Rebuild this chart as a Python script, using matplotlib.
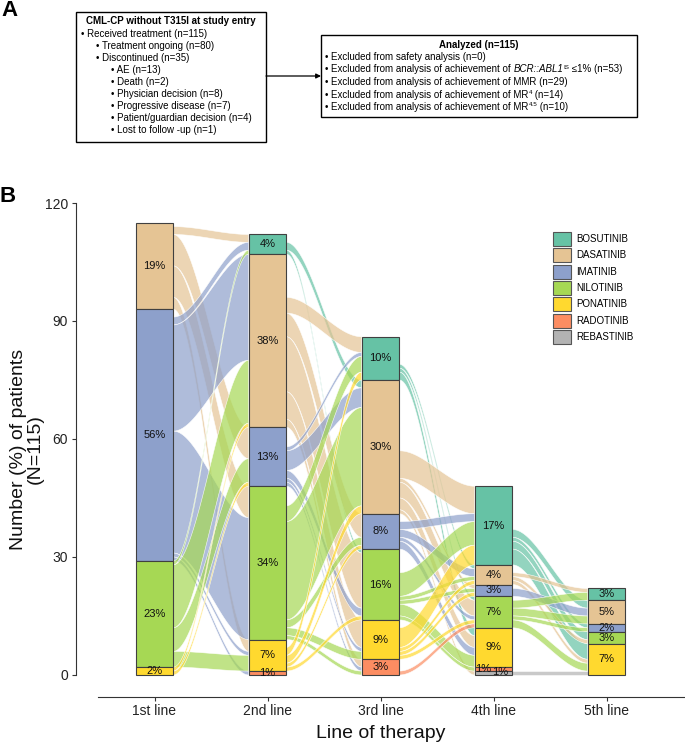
import numpy as np
import matplotlib
matplotlib.use("Agg")
import matplotlib.pyplot as plt
from matplotlib.patches import Rectangle, Patch, Polygon

plt.rcParams["font.family"] = ["Liberation Sans", "DejaVu Sans"]

N_TOTAL = 115
LINES = ["1st line", "2nd line", "3rd line", "4th line", "5th line"]
DRUGS = ["BOSUTINIB", "DASATINIB", "IMATINIB", "NILOTINIB",
         "PONATINIB", "RADOTINIB", "REBASTINIB"]
COLORS = ["#66C2A5", "#E5C494", "#8DA0CB", "#A6D854",
          "#FFD92F", "#FC8D62", "#B3B3B3"]

# patients per drug (same order as DRUGS, stacked top to bottom) per line
LINE1 = [0, 22, 64, 27, 2, 0, 0]
LINE2 = [5, 44, 15, 39, 8, 1, 0]
LINE3 = [11, 34, 9, 18, 10, 4, 0]
LINE4 = [20, 5, 3, 8, 10, 1, 1]
LINE5 = [3, 6, 2, 3, 8, 0, 0]

# switches between consecutive lines: row = drug at line k, col = drug at line k+1
T12 = [[0, 0, 0, 0, 0, 0, 0],
       [2, 0, 8, 8, 3, 0, 0],
       [2, 27, 0, 31, 1, 1, 0],
       [1, 16, 6, 0, 4, 0, 0],
       [0, 1, 1, 0, 0, 0, 0],
       [0, 0, 0, 0, 0, 0, 0],
       [0, 0, 0, 0, 0, 0, 0]]
T23 = [[0, 2, 0, 1, 0, 0, 0],
       [4, 0, 6, 14, 7, 2, 0],
       [1, 5, 0, 2, 1, 1, 0],
       [4, 25, 2, 0, 2, 1, 0],
       [2, 2, 1, 1, 0, 0, 0],
       [0, 0, 0, 0, 0, 0, 0],
       [0, 0, 0, 0, 0, 0, 0]]
T34 = [[0, 1, 0, 1, 2, 0, 0],
       [7, 0, 1, 4, 3, 0, 1],
       [2, 2, 0, 1, 2, 0, 0],
       [6, 1, 1, 0, 3, 1, 0],
       [5, 1, 1, 1, 0, 0, 0],
       [0, 0, 0, 1, 0, 0, 0],
       [0, 0, 0, 0, 0, 0, 0]]
T45 = [[0, 2, 1, 2, 4, 0, 0],
       [1, 0, 0, 1, 1, 0, 0],
       [0, 2, 0, 0, 0, 0, 0],
       [2, 2, 1, 0, 2, 0, 0],
       [0, 0, 0, 0, 0, 0, 0],
       [0, 0, 0, 0, 0, 0, 0],
       [0, 0, 0, 0, 1, 0, 0]]

COUNTS = [LINE1, LINE2, LINE3, LINE4, LINE5]
TRANS = [T12, T23, T34, T45]

BOX1_TITLE = "CML-CP without T315I at study entry"
BOX1_ITEMS = [(0, "Received treatment (n=115)"),
              (1, "Treatment ongoing (n=80)"),
              (1, "Discontinued (n=35)"),
              (2, "AE (n=13)"),
              (2, "Death (n=2)"),
              (2, "Physician decision (n=8)"),
              (2, "Progressive disease (n=7)"),
              (2, "Patient/guardian decision (n=4)"),
              (2, "Lost to follow -up (n=1)")]
BOX2_TITLE = "Analyzed (n=115)"
# each item: list of (text, style) pieces; style n=normal, i=italic, s=superscript
BOX2_ITEMS = [[("Excluded from safety analysis (n=0)", "n")],
              [("Excluded from analysis of achievement of ", "n"), ("BCR::ABL1", "i"),
               ("IS", "s"), (" \u22641% (n=53)", "n")],
              [("Excluded from analysis of achievement of MMR (n=29)", "n")],
              [("Excluded from analysis of achievement of MR", "n"), ("4", "s"), (" (n=14)", "n")],
              [("Excluded from analysis of achievement of MR", "n"), ("4.5", "s"), (" (n=10)", "n")]]

W, H = 685, 744
fig = plt.figure(figsize=(W / 100, H / 100), dpi=100)
renderer = fig.canvas.get_renderer()

# ---- panel A (pixel coordinates) ----
axA = fig.add_axes([0, 0, 1, 1])
axA.set_xlim(0, W)
axA.set_ylim(H, 0)
axA.axis("off")
axA.text(10, 11, "A", fontsize=16, fontweight="bold", ha="center", va="center")
axA.text(8, 197, "B", fontsize=16, fontweight="bold", ha="center", va="center")

axA.add_patch(Rectangle((76, 12), 190, 130, fill=False, lw=1.0, ec="black"))
axA.text(171, 21.5, BOX1_TITLE, fontsize=7, fontweight="bold", ha="center", va="center")
indent = [81, 96, 111]
for i, (lvl, txt) in enumerate(BOX1_ITEMS):
    axA.text(indent[lvl], 33.5 + 12 * i + 3.5, "\u2022 " + txt, fontsize=7,
             ha="left", va="baseline")


def rich_line(x, y, parts):
    # y is the baseline in pixels
    x_cur = x
    for txt, style in parts:
        kw = dict(fontsize=7, ha="left", va="baseline")
        yy = y
        if style == "i":
            kw["fontstyle"] = "italic"
        elif style == "s":
            kw["fontsize"] = 4.5
            yy = y - 3.5
        t = axA.text(x_cur, yy, txt, **kw)
        x_cur += t.get_window_extent(renderer=renderer).width


axA.add_patch(Rectangle((321, 35), 316, 82, fill=False, lw=1.0, ec="black"))
axA.text(479, 45, BOX2_TITLE, fontsize=7, fontweight="bold", ha="center", va="center")
for i, parts in enumerate(BOX2_ITEMS):
    rich_line(325, 56.5 + 12.5 * i + 3.5, [("\u2022 ", "n")] + parts)

axA.annotate("", xy=(321, 76), xytext=(266, 76),
             arrowprops=dict(arrowstyle="-|>", lw=0.9, color="black",
                             mutation_scale=7, shrinkA=0, shrinkB=0))

# ---- panel B: alluvial ----
ax = fig.add_axes([76 / W, (H - 697) / H, (W - 76) / W, (697 - 203) / H])
ymin = -22 / 3.933
ax.set_ylim(ymin, 120)
ax.set_xlim(1 - 78.5 / 113, 5 + 78.5 / 113)
bw = 1 / 3


def tops_of(c):
    out, y = [], sum(c)
    for n in c:
        out.append(y)
        y -= n
    return out


def band(x0, x1, t0, b0, t1, b1, n=60):
    t = np.linspace(0, 1, n)
    s = 3 * t ** 2 - 2 * t ** 3
    x = x0 + (x1 - x0) * t
    top = t0 + (t1 - t0) * s
    bot = b0 + (b1 - b0) * s
    return np.column_stack([np.concatenate([x, x[::-1]]),
                            np.concatenate([top, bot[::-1]])])


for k, T in enumerate(TRANS):
    c0, c1 = COUNTS[k], COUNTS[k + 1]
    top0, top1 = tops_of(c0), tops_of(c1)
    # patients who stop sit at the top of each stratum
    out_cur = [top0[s] - (c0[s] - sum(T[s])) for s in range(len(DRUGS))]
    in_cur = list(top1)
    xa, xb = k + 1 + bw / 2, k + 2 - bw / 2
    for s in range(len(DRUGS)):
        for d in range(len(DRUGS)):
            n = T[s][d]
            if n == 0:
                continue
            pts = band(xa, xb, out_cur[s], out_cur[s] - n, in_cur[d], in_cur[d] - n)
            rgb = matplotlib.colors.to_rgb(COLORS[s])
            ax.add_patch(Polygon(pts, closed=True, fc=rgb + (0.7,),
                                 ec=(1, 1, 1, 0.9), lw=0.4, zorder=1))
            out_cur[s] -= n
            in_cur[d] -= n

nudge = {(3, 5): (-0.09, 0.1), (3, 6): (0.06, 0.2)}
for k, c in enumerate(COUNTS):
    tops = tops_of(c)
    for s, n in enumerate(c):
        if n == 0:
            continue
        bot = tops[s] - n
        ax.add_patch(Rectangle((k + 1 - bw / 2, bot), bw, n, fc=COLORS[s],
                               ec="#404040", lw=0.8, zorder=3))
        dx, dy = nudge.get((k, s), (0, 0))
        ax.text(k + 1 + dx, bot + n / 2 + dy, f"{round(100 * n / N_TOTAL)}%",
                fontsize=8, ha="center", va="center", color="#111111", zorder=4)

for sp in ["top", "right"]:
    ax.spines[sp].set_visible(False)
ax.spines["left"].set_bounds(0, 120)
ax.spines["bottom"].set_bounds(0.5, 5 + 78.5 / 113)
for sp in ["left", "bottom"]:
    ax.spines[sp].set_linewidth(0.8)
    ax.spines[sp].set_color("#333333")
ax.set_yticks([0, 30, 60, 90, 120])
ax.set_xticks(range(1, 6))
ax.set_xticklabels(LINES)
ax.tick_params(axis="both", labelsize=10, length=2.9, width=0.8,
               color="#333333", labelcolor="#222222")
ax.tick_params(axis="y", pad=2.9)
ax.tick_params(axis="x", pad=2)

fig.text(27 / W, 1 - 449 / H, "Number (%) of patients\n(N=115)", rotation=90,
         fontsize=14, ha="center", va="center", multialignment="center",
         linespacing=0.95, color="#111111")
fig.text(380.5 / W, 1 - 733 / H, "Line of therapy", fontsize=14,
         ha="center", va="center", color="#111111")

handles = [Patch(fc=col, ec="#555555", lw=0.8, label=lab) for col, lab in zip(COLORS, DRUGS)]
ax.legend(handles=handles, loc="upper left", bbox_to_anchor=(553 / W, 1 - 232 / H),
          bbox_transform=fig.transFigure, frameon=False, fontsize=7,
          handlelength=1.85, handleheight=1.85, labelspacing=0.23,
          handletextpad=0.5, borderpad=0, borderaxespad=0)

fig.savefig("out.png", dpi=100)
